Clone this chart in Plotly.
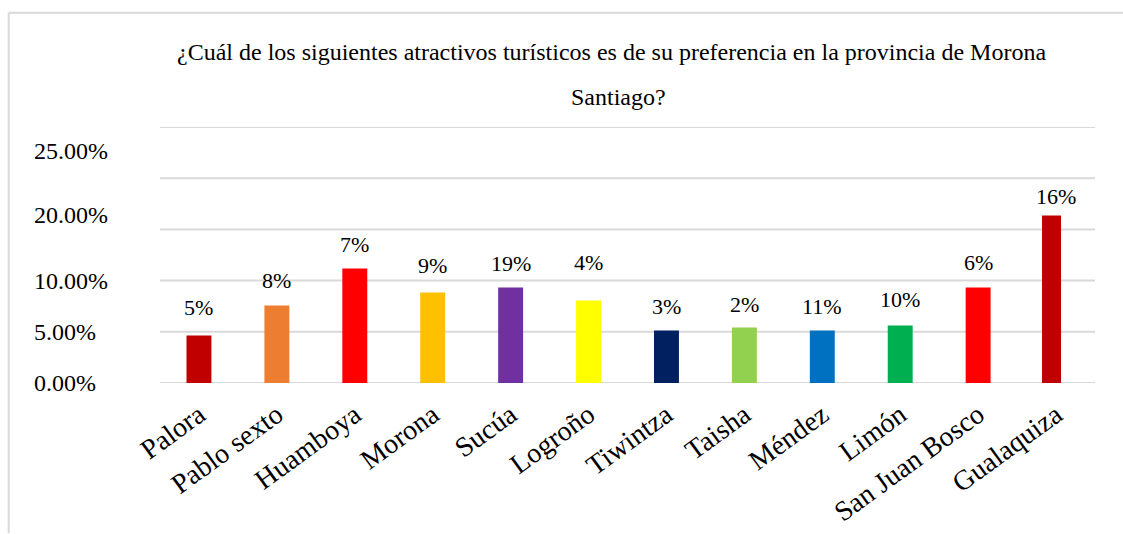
import plotly.graph_objects as go

# ---- data ----
categories = ["Palora", "Pablo sexto", "Huamboya", "Morona", "Sucúa", "Logroño",
              "Tiwintza", "Taisha", "Méndez", "Limón", "San Juan Bosco", "Gualaquiza"]
values = [4.64, 7.57, 11.18, 8.84, 9.33, 8.06, 5.13, 5.42, 5.13, 5.62, 9.33, 16.36]
bar_labels = ["5%", "8%", "7%", "9%", "19%", "4%", "3%", "2%", "11%", "10%", "6%", "16%"]
ytick_labels = ["0.00%", "5.00%", "10.00%", "20.00%", "25.00%"]
ytick_label_values = [0, 5, 10, 16.36, 22.66]
grid_values = [0, 5, 10, 15, 20, 25]
title_line1 = "¿Cuál de los siguientes atractivos turísticos es de su preferencia en la provincia de Morona"
title_line2 = "Santiago?"

# ---- style ----
colors = ["#C00000", "#ED7D31", "#FF0000", "#FFC000", "#7030A0", "#FFFF00",
          "#002060", "#92D050", "#0070C0", "#00B050", "#FF0000", "#C00000"]
bar_widths = [0.32] * 11 + [0.244]
bar_offsets = [-0.16] * 11 + [-0.18]
label_shift = [13, 10, 10, 12, 9, 23, 9, 9, 9, 11, 10, 4]
FONT = "Liberation Serif"
W, H = 1123, 534
L, R, T, B = 160, 28, 127, 150.5
pw = W - L - R
ph = H - T - B

def px_to_paper_x(px):
    return (px - L) / pw

def px_to_paper_y(py):
    return (H - B - py) / ph

fig = go.Figure()
fig.add_trace(go.Bar(
    x=categories, y=values,
    marker=dict(color=colors, line=dict(width=0)),
    width=bar_widths, offset=bar_offsets,
    hoverinfo="skip",
))

annotations = []
for c, v, t, s in zip(categories, values, bar_labels, label_shift):
    annotations.append(dict(x=c, y=v, xref="x", yref="y", text=t, showarrow=False,
                            yanchor="bottom", yshift=s,
                            font=dict(family=FONT, size=22, color="#000000")))
for t, v in zip(ytick_labels, ytick_label_values):
    annotations.append(dict(x=px_to_paper_x(32), y=v, xref="paper", yref="y", text=t,
                            showarrow=False, xanchor="left", yanchor="middle",
                            font=dict(family=FONT, size=24, color="#000000")))
annotations.append(dict(x=px_to_paper_x(611), y=px_to_paper_y(52), xref="paper", yref="paper",
                        text=title_line1, showarrow=False, xanchor="center", yanchor="middle",
                        font=dict(family=FONT, size=24, color="#000000")))
annotations.append(dict(x=px_to_paper_x(618), y=px_to_paper_y(97), xref="paper", yref="paper",
                        text=title_line2, showarrow=False, xanchor="center", yanchor="middle",
                        font=dict(family=FONT, size=24, color="#000000")))

shapes = []
for g in grid_values:
    shapes.append(dict(type="line", xref="paper", yref="y", x0=0, x1=1, y0=g, y1=g,
                       line=dict(color="#D9D9D9", width=2), layer="below"))
# outer frame (top and left edges)
shapes.append(dict(type="line", xref="paper", yref="paper",
                   x0=px_to_paper_x(8.7), x1=px_to_paper_x(1123), y0=px_to_paper_y(12.5), y1=px_to_paper_y(12.5),
                   line=dict(color="#D9D9D9", width=2)))
shapes.append(dict(type="line", xref="paper", yref="paper",
                   x0=px_to_paper_x(8.7), x1=px_to_paper_x(8.7), y0=px_to_paper_y(12.5), y1=px_to_paper_y(534),
                   line=dict(color="#D9D9D9", width=2)))

fig.update_layout(
    width=W, height=H,
    margin=dict(l=L, r=R, t=T, b=B, autoexpand=False),
    paper_bgcolor="white", plot_bgcolor="white",
    showlegend=False,
    xaxis=dict(tickangle=-36, tickfont=dict(family=FONT, size=28, color="#000000"),
               ticklabelstandoff=9,
               showgrid=False, showline=False, ticks="", zeroline=False),
    yaxis=dict(range=[0, 25], showgrid=False, showticklabels=False, zeroline=False,
               showline=False, ticks=""),
    annotations=annotations,
    shapes=shapes,
)

fig.write_html("out.html", config={"displayModeBar": False},
               post_script="document.body.style.margin='0';document.body.style.padding='0';")
